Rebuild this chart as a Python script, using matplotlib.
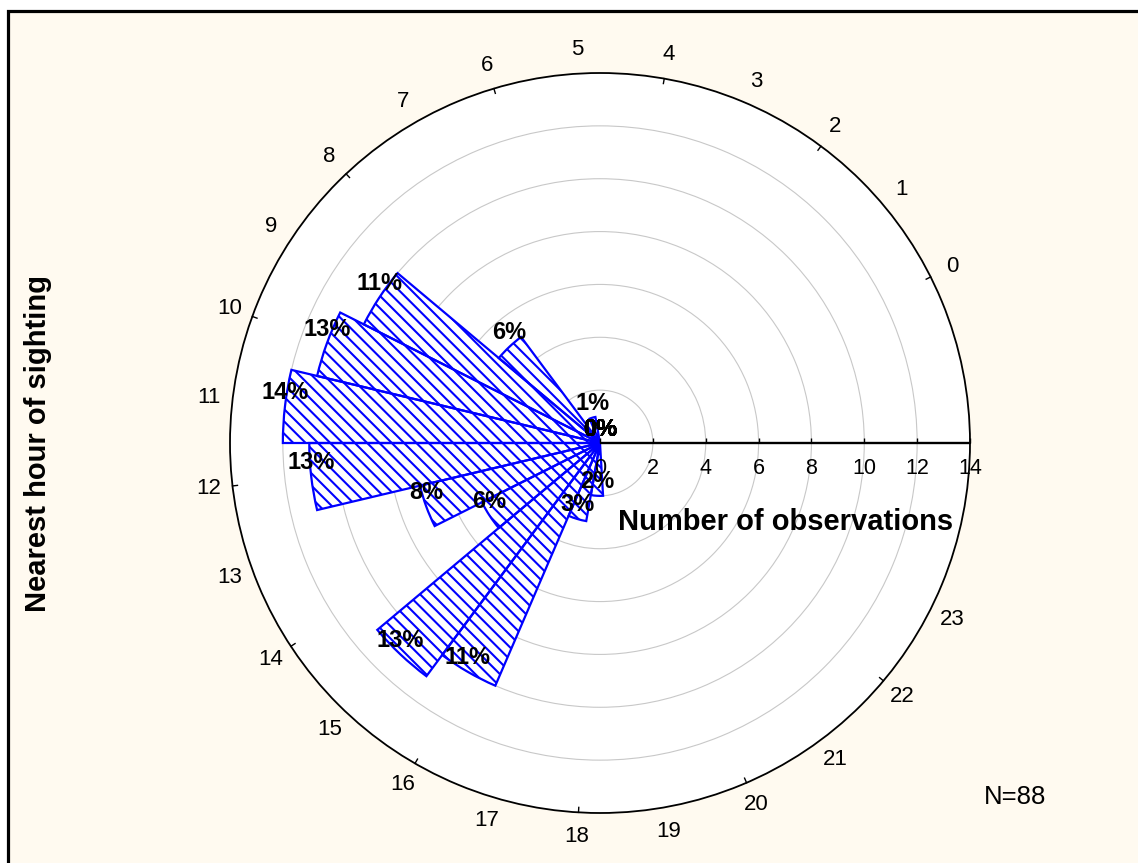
import numpy as np
import matplotlib
matplotlib.use('Agg')
import matplotlib.pyplot as plt
from matplotlib.collections import LineCollection
from matplotlib.patches import Rectangle
from matplotlib.path import Path

# ---------------- data ----------------
hours = list(range(24))
counts = [0, 0, 0, 0, 0, 0, 1, 0, 5, 10, 11, 12, 11, 7, 5, 11, 10, 3, 2, 0, 0, 0, 0, 0]
n_total = 88
r_ticks = [0, 2, 4, 6, 8, 10, 12, 14]
grid_r = [2, 4, 6, 8, 10, 12]
x_label = "Number of observations"
y_label = "Nearest hour of sighting"
n_text = "N=88"

# ---------------- layout ----------------
W, H = 1138, 863
DPI = 100
plt.rcParams['font.family'] = ['Liberation Sans', 'DejaVu Sans']

fig = plt.figure(figsize=(W / DPI, H / DPI), dpi=DPI, facecolor='white')


def fx(x):
    return x / W


def fy(y):
    return 1 - y / H


bg = Rectangle((fx(7.5), -0.1), 1.2, fy(11.5) + 0.1, transform=fig.transFigure,
               facecolor='#FFFAF0', edgecolor='black', linewidth=2.3, zorder=-1)
fig.patches.append(bg)

cx, cy, R = 600, 443, 370
RMAX = 14
PX_PER_UNIT = R / RMAX
ax = fig.add_axes([fx(cx - R), fy(cy + R), 2 * R / W, 2 * R / H], polar=True)
ax.set_facecolor('white')
ax.set_ylim(0, RMAX)
ax.set_axisbelow(True)

NU = 27  # angular units in full circle (hour h sits at unit h+2)


def th(h):
    return (np.asarray(h, dtype=float) + 2) * 2 * np.pi / NU


width = 2 * np.pi / NU

ax.set_xticks([])
ax.xaxis.grid(False)
ax.set_yticks(grid_r)
ax.set_yticklabels([])
ax.yaxis.grid(True, color='#C8C8C8', linewidth=0.8)
ax.tick_params(axis='y', length=0)
ax.spines['polar'].set_color('black')
ax.spines['polar'].set_linewidth(1.3)

# bars: white fill, hatch, blue edge
ax.bar(th(hours), counts, width=width, bottom=0, align='center',
       facecolor='white', edgecolor='none', zorder=1)
s = 12.3
cs = np.arange(0, W + H, s)
segs = [[(c / W, 0), ((c - H) / W, 1)] for c in cs]
for h in hours:
    if counts[h] == 0:
        continue
    t0 = float(th(h)) - width / 2
    t1 = float(th(h)) + width / 2
    arc_t = np.linspace(t0, t1, 60)
    verts = [(t0, 0.0)] + [(t, counts[h]) for t in arc_t] + [(t1, 0.0), (t0, 0.0)]
    codes = [Path.MOVETO] + [Path.LINETO] * (len(verts) - 2) + [Path.CLOSEPOLY]
    clip = Path(verts, codes)
    lc = LineCollection(segs, colors='#0000FF', linewidths=1.5,
                        transform=fig.transFigure, zorder=1.5)
    ax.add_collection(lc, autolim=False)
    lc.set_clip_path(clip, ax.transData)
ax.bar(th(hours), counts, width=width, bottom=0, align='center',
       facecolor='none', edgecolor='#0000FF', linewidth=1.6, zorder=2)

# percentage labels
for h in hours:
    pct = int(counts[h] / n_total * 100 + 0.5)
    ax.annotate(f"{pct}%", xy=(th(h), counts[h]), xytext=(0, 14),
                textcoords='offset pixels', ha='center', va='center',
                fontsize=17, fontweight='bold', zorder=6, annotation_clip=False)

# radial axis along theta = 0
ax.plot([0, 0], [0, RMAX], color='black', linewidth=1.7, zorder=4,
        clip_on=False, solid_capstyle='butt')
ax.plot(np.zeros(len(r_ticks)), r_ticks, linestyle='none', marker=2,
        markersize=3.5, markeredgewidth=1.0, color='black', clip_on=False, zorder=4)
for r in r_ticks:
    ax.annotate(str(r), xy=(0, r), xytext=(0, -25), textcoords='offset pixels',
                ha='center', va='center', fontsize=15.5, zorder=6,
                annotation_clip=False)

# hour ticks (even hours) and labels (all hours)
for h in hours:
    if h % 2 == 0:
        ax.plot([th(h), th(h)], [RMAX, RMAX - 5 / PX_PER_UNIT], color='black',
                linewidth=1.0, clip_on=False, zorder=4)
    ax.text(th(h), RMAX + 24 / PX_PER_UNIT, str(h), ha='center', va='center',
            fontsize=16, clip_on=False)

fig.text(fx(786), fy(530), x_label, ha='center', va='baseline',
         fontsize=21, fontweight='bold')
fig.text(fx(38), fy(443), y_label, rotation=90, ha='center', va='center',
         fontsize=21, fontweight='bold')
fig.text(fx(1015), fy(797), n_text, ha='center', va='center', fontsize=18.5)

fig.savefig('out.png', dpi=DPI, facecolor=fig.get_facecolor())
